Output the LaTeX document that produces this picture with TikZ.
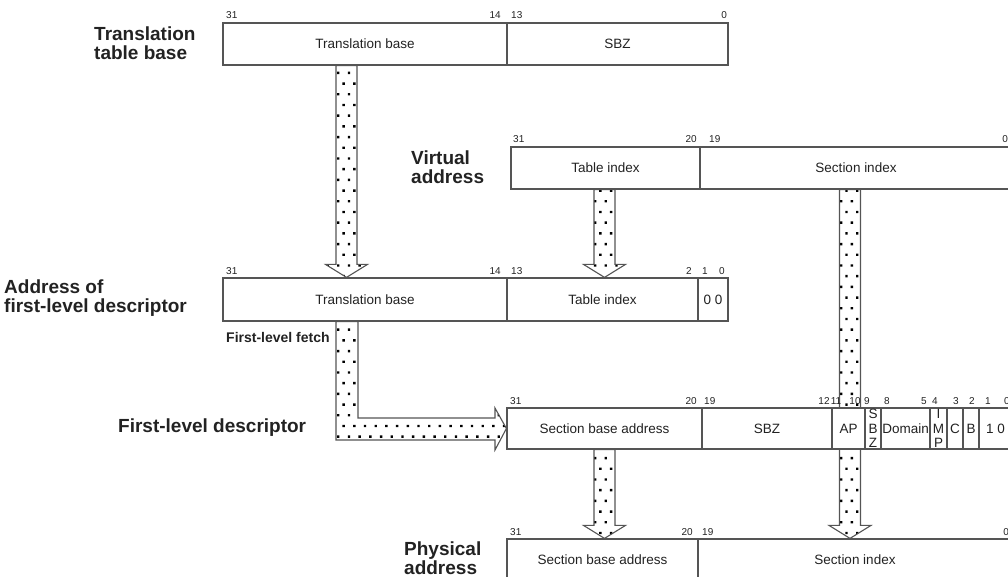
\documentclass[tikz,border=0pt]{standalone}
\usepackage{fontspec}
\setmainfont{Liberation Sans}
\usetikzlibrary{calc,patterns}
\pgfdeclarelayer{bg}
\pgfsetlayers{bg,main}
\definecolor{ln}{HTML}{555555}
\definecolor{tx}{HTML}{222222}
\pgfdeclarepatternformonly{sparsedots}{\pgfqpoint{-1pt}{-1pt}}{\pgfqpoint{12pt}{23pt}}{\pgfqpoint{10.7pt}{21.4pt}}{%
  \pgfpathrectangle{\pgfqpoint{0pt}{0pt}}{\pgfqpoint{2.4pt}{2.4pt}}%
  \pgfpathrectangle{\pgfqpoint{5.35pt}{10.7pt}}{\pgfqpoint{2.4pt}{2.4pt}}%
  \pgfusepath{fill}}
\tikzset{
  field/.style={draw=ln, line width=1.2pt, fill=white, inner sep=0pt, text=tx,
    font=\fontsize{13.5}{15}\selectfont, align=center},
  stk/.style={inner sep=0pt, text=tx, align=center, font=\fontsize{13.5}{14.5}\selectfont},
  bitlbl/.style={inner sep=0pt, text=tx, font=\fontsize{10}{10}\selectfont},
  ttl/.style={inner sep=0pt, anchor=west, align=left, text=tx,
    font=\bfseries\fontsize{19}{19.5}\selectfont},
  blockarrow/.style={preaction={fill=white}, pattern=sparsedots, pattern color=black,
    draw=ln, line width=1.1pt, line join=miter}
}
% field: name, x1, x2, y1, y2, text
\newcommand\fld[6]{\node[field, minimum width={(#3-#2)*1pt}, minimum height={(#5-#4)*1pt}]
  (#1) at ({(#2+#3)/2},{(#4+#5)/2}) {#6};}
% vertical block arrow: x centre, start anchor, end anchor
\newcommand\vblock[3]{\path[blockarrow]
  (#1-10.5,0 |- #2) -- ($(#1-10.5,0 |- #3)+(0,-13)$) -- ($(#1-21,0 |- #3)+(0,-13)$)
  -- (#1,0 |- #3) -- ($(#1+21,0 |- #3)+(0,-13)$) -- ($(#1+10.5,0 |- #3)+(0,-13)$)
  -- (#1+10.5,0 |- #2) -- cycle;}
\begin{document}
\begin{tikzpicture}[x=1pt,y=-1pt]
\clip (0,0) rectangle (1008,577);

% Translation table base
\node[ttl] (tTTB) at (94,43) {Translation\\table base};
\fld{tbBase}{223}{507}{23}{65}{Translation base}
\fld{tbSbz}{507}{728}{23}{65}{SBZ}
\node[bitlbl, anchor=base west] (b1) at (226,19) {31};
\node[bitlbl, anchor=base east] (b2) at (501,19) {14};
\node[bitlbl, anchor=base west] (b3) at (511,19) {13};
\node[bitlbl, anchor=base east] (b4) at (727,19) {0};

% Virtual address
\node[ttl] (tVA) at (411,167) {Virtual\\address};
\fld{vaTab}{511}{700}{147}{189}{Table index}
\fld{vaSec}{700}{1012}{147}{189}{Section index}
\node[bitlbl, anchor=base west] (b5) at (513,143) {31};
\node[bitlbl, anchor=base east] (b6) at (697,143) {20};
\node[bitlbl, anchor=base west] (b7) at (709,143) {19};
\node[bitlbl, anchor=base east] (b8) at (1008,143) {0};

% Address of first-level descriptor
\node[ttl] (tAD) at (4,298) {Address of\\first-level descriptor};
\fld{adBase}{223}{507}{278}{321}{Translation base}
\fld{adTab}{507}{698}{278}{321}{Table index}
\fld{adZero}{698}{728}{278}{321}{0 0}
\node[bitlbl, anchor=base west] (b9) at (226,274) {31};
\node[bitlbl, anchor=base east] (b10) at (501,274) {14};
\node[bitlbl, anchor=base west] (b11) at (511,274) {13};
\node[bitlbl, anchor=base] (b12) at (689,274) {2};
\node[bitlbl, anchor=base] (b13) at (705,274) {1};
\node[bitlbl, anchor=base] (b14) at (722,274) {0};
\node[inner sep=0pt, anchor=west, text=tx, font=\bfseries\fontsize{14}{15}\selectfont]
  (tFetch) at (226,337) {First-level fetch};

% First-level descriptor
\node[ttl] (tFLD) at (118,428) {First-level descriptor};
\fld{dsBase}{507}{702}{408}{449}{Section base address}
\fld{dsSbz}{702}{832}{408}{449}{SBZ}
\fld{dsAP}{832}{865}{408}{449}{AP}
\fld{dsSbzb}{865}{881}{408}{449}{}
\fld{dsDom}{881}{930}{408}{449}{Domain}
\fld{dsImp}{930}{947}{408}{449}{}
\fld{dsC}{947}{963}{408}{449}{C}
\fld{dsB}{963}{979}{408}{449}{B}
\fld{dsOne}{979}{1012}{408}{449}{1 0}
\node[stk] (sSbz) at (dsSbzb) {S\\B\\Z};
\node[stk] (sImp) at (dsImp) {I\\M\\P};
\node[bitlbl, anchor=base west] (b15) at (510,404) {31};
\node[bitlbl, anchor=base east] (b16) at (697,404) {20};
\node[bitlbl, anchor=base west] (b17) at (704,404) {19};
\node[bitlbl, anchor=base] (b18) at (824,404) {12};
\node[bitlbl, anchor=base] (b19) at (836,404) {11};
\node[bitlbl, anchor=base] (b20) at (855,404) {10};
\node[bitlbl, anchor=base] (b21) at (867,404) {9};
\node[bitlbl, anchor=base] (b22) at (887,404) {8};
\node[bitlbl, anchor=base] (b23) at (924,404) {5};
\node[bitlbl, anchor=base] (b24) at (935,404) {4};
\node[bitlbl, anchor=base] (b25) at (956,404) {3};
\node[bitlbl, anchor=base] (b26) at (972,404) {2};
\node[bitlbl, anchor=base] (b27) at (988,404) {1};
\node[bitlbl, anchor=base] (b28) at (1007,404) {0};

% Physical address
\node[ttl] (tPA) at (404,558) {Physical\\address};
\fld{phBase}{507}{698}{539}{581}{Section base address}
\fld{phSec}{698}{1012}{539}{581}{Section index}
\node[bitlbl, anchor=base west] (b29) at (510,535) {31};
\node[bitlbl, anchor=base east] (b30) at (693,535) {20};
\node[bitlbl, anchor=base west] (b31) at (702,535) {19};
\node[bitlbl, anchor=base east] (b32) at (1009,535) {0};

% Block arrows (behind the boxes)
\begin{pgfonlayer}{bg}
\vblock{346.5}{tbBase.south}{adBase.north}
\vblock{604.5}{vaTab.south}{adTab.north}
\vblock{850}{vaSec.south}{phSec.north}
\vblock{604.5}{dsBase.south}{phBase.north}
\path[blockarrow] (336,0 |- adBase.south) -- (336,440) -- (495,440) -- (495,450)
  -- (dsBase.west) -- (495,408) -- (495,418) -- (358,418)
  -- (358,0 |- adBase.south) -- cycle;
\end{pgfonlayer}
\end{tikzpicture}
\end{document}
